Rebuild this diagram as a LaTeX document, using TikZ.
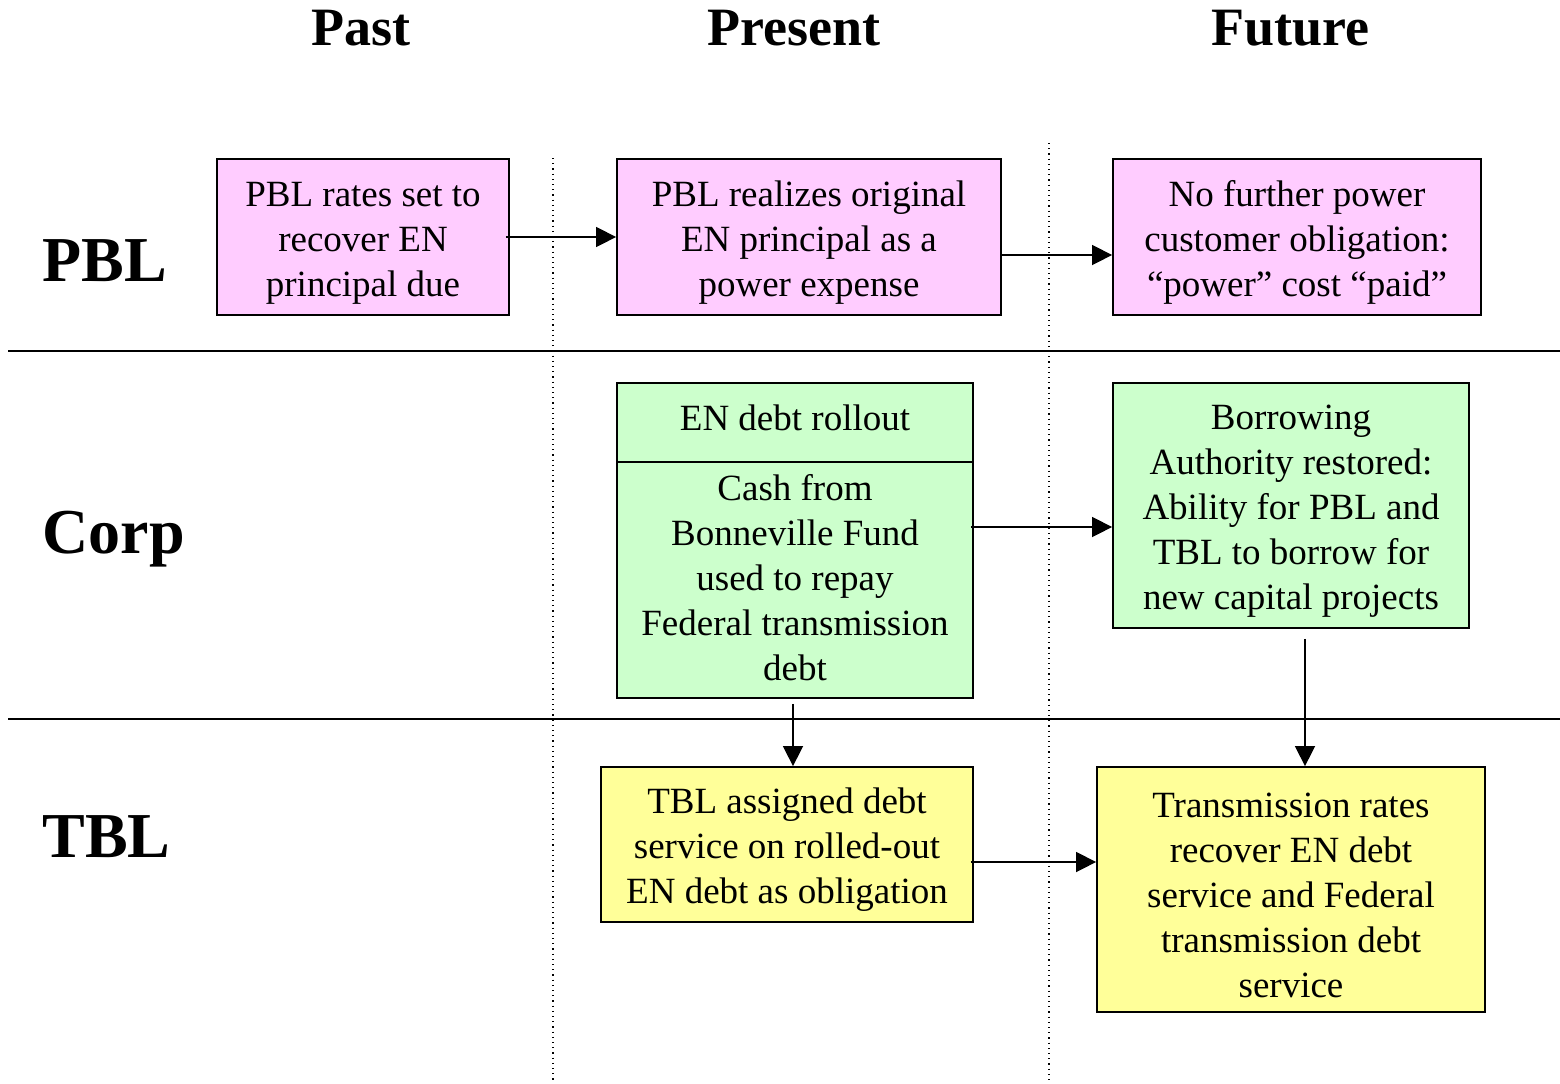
\documentclass[tikz,border=0pt]{standalone}
\usepackage{fontspec}
\setmainfont{Liberation Serif}
\usepackage{tikz}
\usetikzlibrary{arrows.meta}

\newcommand{\lift}{\rule{0pt}{18pt}}

\tikzset{
  box/.style={draw, line width=0.9pt, inner sep=0pt, align=center,
    font=\fontsize{18.5}{22.5}\selectfont},
  txt/.style={inner sep=0pt, align=center, font=\fontsize{18.5}{22.5}\selectfont},
  head/.style={anchor=base, font=\fontsize{27}{30}\selectfont\bfseries},
  row/.style={anchor=base west, inner sep=0pt, font=\fontsize{32}{35}\selectfont\bfseries},
  arr/.style={line width=0.75pt, -{Triangle[length=10pt,width=10pt]}},
  sep/.style={line width=0.8pt},
  era/.style={line width=0.6pt, dotted}
}

\begin{document}
\begin{tikzpicture}[x=0.5pt, y=-0.5pt]

\definecolor{c1}{rgb}{1.0, 0.8, 1.0}
\definecolor{c2}{rgb}{0.8, 1.0, 0.8}
\definecolor{c3}{rgb}{1.0, 1.0, 0.6}

\useasboundingbox (0,0) rectangle (1560,1083);

\node[head] (past) at (361,45) {Past};
\node[head] (present) at (794,45) {Present};
\node[head] (future) at (1290,45) {Future};

\node[row] (pbl) at (42,281) {PBL};
\node[row] (corp) at (42,553) {Corp};
\node[row] (tbl) at (42,857) {TBL};

\draw[sep] (8,351) -- (1560,351);
\draw[sep] (8,719) -- (1560,719);
\draw[era] (553,158) -- (553,1080);
\draw[era] (1049,143) -- (1049,1080);

\node[box, fill=c1, minimum width=146pt, minimum height=78pt] (pblone) at (363,237)
  {\lift PBL rates set to\\recover EN\\principal due};
\node[box, fill=c1, minimum width=192pt, minimum height=78pt] (pbltwo) at (809,237)
  {\lift PBL realizes original\\EN principal as a\\power expense};
\node[box, fill=c1, minimum width=184pt, minimum height=78pt] (pblthree) at (1297,237)
  {\lift No further power\\customer obligation:\\“power” cost “paid”};

\node[box, fill=c2, minimum width=178pt, minimum height=157.5pt] (corpone) at (795,540.5) {};
\node[txt] (rollout) at (795,418) {EN debt rollout};
\node[txt] (cash) at (795,577.5)
  {Cash from\\Bonneville Fund\\used to repay\\Federal transmission\\debt};
\draw[line width=0.9pt] ([yshift=-40pt]corpone.north west) -- ([yshift=-40pt]corpone.north east);
\node[box, fill=c2, minimum width=178pt, minimum height=122.5pt] (corptwo) at (1291,505.5)
  {\lift Borrowing\\Authority restored:\\Ability for PBL and\\TBL to borrow for\\new capital projects};

\node[box, fill=c3, minimum width=186pt, minimum height=77.5pt] (tblone) at (787,844.5)
  {\lift TBL assigned debt\\service on rolled-out\\EN debt as obligation};
\node[box, fill=c3, minimum width=194pt, minimum height=122.5pt] (tbltwo) at (1291,889.5)
  {\lift Transmission rates\\recover EN debt\\service and Federal\\transmission debt\\service};

\draw[arr] ([xshift=-2pt]pblone.east) -- (pbltwo.west);
\draw[arr] ([yshift=-9pt]pbltwo.east) -- ([yshift=-9pt]pblthree.west);
\draw[arr] ([yshift=6.75pt,xshift=-1.5pt]corpone.east) -- ([yshift=-10.75pt]corptwo.west);
\draw[arr] ([yshift=-8.75pt,xshift=-1.5pt]tblone.east) -- ([yshift=13.75pt]tbltwo.west);
\draw[arr, shorten <=2.5pt] ([xshift=-1pt]corpone.south) -- ([xshift=3pt]tblone.north);
\draw[arr, shorten <=5pt] ([xshift=7pt]corptwo.south) -- ([xshift=7pt]tbltwo.north);

\end{tikzpicture}
\end{document}
